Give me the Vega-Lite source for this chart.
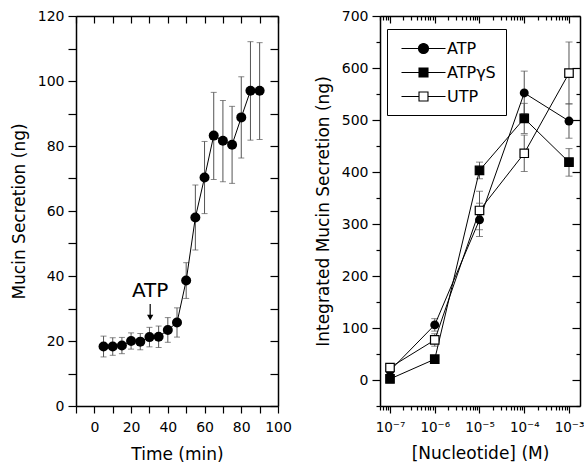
{
  "$schema": "https://vega.github.io/schema/vega-lite/v6.json",
  "padding": {"left": 10, "top": 9, "right": 0, "bottom": 2},
  "spacing": 22,
  "resolve": {"legend": {"shape": "independent", "fill": "independent"}},
  "config": {
    "view": {"stroke": null},
    "font": "DejaVu Sans",
    "axis": {
      "domainColor": "black", "domainWidth": 1.5, "tickColor": "black", "tickWidth": 1.2,
      "labelColor": "black", "labelFont": "DejaVu Sans", "labelFontSize": 14,
      "titleColor": "black", "titleFont": "DejaVu Sans", "titleFontSize": 17, "titleFontWeight": "normal",
      "grid": false, "labelPadding": 4
    }
  },
  "hconcat": [
    {
      "width": 202,
      "height": 390,
      "data": {"values": [
        {"t": 5, "v": 18.3, "lo": 15.1, "hi": 21.5},
        {"t": 10, "v": 18.3, "lo": 15.6, "hi": 21.0},
        {"t": 15, "v": 18.6, "lo": 16.1, "hi": 21.1},
        {"t": 20, "v": 20.0, "lo": 17.5, "hi": 22.5},
        {"t": 25, "v": 19.8, "lo": 17.3, "hi": 22.3},
        {"t": 30, "v": 21.2, "lo": 18.2, "hi": 24.2},
        {"t": 35, "v": 21.3, "lo": 18.0, "hi": 24.6},
        {"t": 40, "v": 23.4, "lo": 19.6, "hi": 27.2},
        {"t": 45, "v": 25.7, "lo": 21.2, "hi": 30.2},
        {"t": 50, "v": 38.6, "lo": 33.1, "hi": 44.1},
        {"t": 55, "v": 58.0, "lo": 48.0, "hi": 68.0},
        {"t": 60, "v": 70.3, "lo": 59.2, "hi": 81.4},
        {"t": 65, "v": 83.2, "lo": 69.7, "hi": 96.5},
        {"t": 70, "v": 81.6, "lo": 69.0, "hi": 94.0},
        {"t": 75, "v": 80.4, "lo": 68.5, "hi": 92.2},
        {"t": 80, "v": 88.8, "lo": 76.3, "hi": 101.3},
        {"t": 85, "v": 97.0, "lo": 81.8, "hi": 112.1},
        {"t": 90, "v": 97.0, "lo": 82.0, "hi": 111.8}
      ]},
      "resolve": {"axis": {"x": "independent", "y": "independent"}},
      "layer": [
        {
          "mark": {"type": "errorbar", "color": "#555555", "thickness": 1, "ticks": {"size": 6, "color": "#555555"}},
          "encoding": {
            "x": {"field": "t", "type": "quantitative", "scale": {"domain": [-10, 100], "nice": false, "zero": false}, "axis": null},
            "y": {"field": "lo", "type": "quantitative", "scale": {"domain": [0, 120], "nice": false}, "axis": null},
            "y2": {"field": "hi"}
          }
        },
        {
          "mark": {"type": "line", "color": "black", "strokeWidth": 1},
          "encoding": {
            "x": {"field": "t", "type": "quantitative", "scale": {"domain": [-10, 100], "nice": false, "zero": false},
              "axis": {"orient": "bottom", "title": "Time (min)", "values": [-10, 0, 10, 20, 30, 40, 50, 60, 70, 80, 90, 100],
                "labelExpr": "datum.value % 20 == 0 && datum.value >= 0 ? datum.label : ''", "tickSize": 7, "labelPadding": 7, "titlePadding": 12, "labelFlush": false}},
            "y": {"field": "v", "type": "quantitative", "scale": {"domain": [0, 120], "nice": false},
              "axis": {"orient": "left", "title": "Mucin Secretion (ng)", "values": [0, 10, 20, 30, 40, 50, 60, 70, 80, 90, 100, 110, 120],
                "labelExpr": "datum.value % 20 == 0 ? datum.label : ''", "tickSize": 8, "titlePadding": 9}}
          }
        },
        {
          "mark": {"type": "circle", "size": 100, "color": "black", "opacity": 1},
          "encoding": {
            "x": {"field": "t", "type": "quantitative", "scale": {"domain": [-10, 100], "nice": false, "zero": false},
              "axis": {"orient": "top", "title": null, "labels": false, "values": [-10, 0, 10, 20, 30, 40, 50, 60, 70, 80, 90, 100], "tickSize": -7}},
            "y": {"field": "v", "type": "quantitative", "scale": {"domain": [0, 120], "nice": false},
              "axis": {"orient": "right", "title": null, "labels": false, "values": [0, 10, 20, 30, 40, 50, 60, 70, 80, 90, 100, 110, 120], "tickSize": -8}}
          }
        },
        {
          "data": {"values": [{"x": 30.4, "y1": 31.4, "y2": 27.0, "yh": 27.2, "yt": 35.3, "label": "ATP"}]},
          "layer": [
            {
              "mark": {"type": "rule", "color": "black", "strokeWidth": 1.2},
              "encoding": {
                "x": {"field": "x", "type": "quantitative", "axis": null},
                "y": {"field": "y1", "type": "quantitative", "axis": null},
                "y2": {"field": "y2"}
              }
            },
            {
              "mark": {"type": "point", "shape": "triangle-down", "size": 40, "filled": true, "color": "black", "opacity": 1},
              "encoding": {
                "x": {"field": "x", "type": "quantitative", "axis": null},
                "y": {"field": "yh", "type": "quantitative", "axis": null}
              }
            },
            {
              "mark": {"type": "text", "fontSize": 20, "font": "DejaVu Sans", "color": "black", "baseline": "middle"},
              "encoding": {
                "x": {"field": "x", "type": "quantitative", "axis": null},
                "y": {"field": "yt", "type": "quantitative", "axis": null},
                "text": {"field": "label"}
              }
            }
          ]
        }
      ]
    },
    {
      "width": 200,
      "height": 390,
      "data": {"values": [
        {"series": "ATP", "c": 1e-7, "v": 18, "lo": 13, "hi": 23},
        {"series": "ATP", "c": 1e-6, "v": 106, "lo": 94, "hi": 118},
        {"series": "ATP", "c": 1e-5, "v": 308, "lo": 276, "hi": 340},
        {"series": "ATP", "c": 1e-4, "v": 552, "lo": 512, "hi": 594},
        {"series": "ATP", "c": 1e-3, "v": 498, "lo": 465, "hi": 531},
        {"series": "ATPγS", "c": 1e-7, "v": 2, "lo": -1, "hi": 5},
        {"series": "ATPγS", "c": 1e-6, "v": 40, "lo": 36, "hi": 44},
        {"series": "ATPγS", "c": 1e-5, "v": 403, "lo": 387, "hi": 419},
        {"series": "ATPγS", "c": 1e-4, "v": 503, "lo": 474, "hi": 532},
        {"series": "ATPγS", "c": 1e-3, "v": 419, "lo": 392, "hi": 445},
        {"series": "UTP", "c": 1e-7, "v": 24, "lo": 20, "hi": 28},
        {"series": "UTP", "c": 1e-6, "v": 77, "lo": 65, "hi": 89},
        {"series": "UTP", "c": 1e-5, "v": 326, "lo": 289, "hi": 363},
        {"series": "UTP", "c": 1e-4, "v": 436, "lo": 401, "hi": 471},
        {"series": "UTP", "c": 1e-3, "v": 590, "lo": 531, "hi": 650}
      ]},
      "resolve": {"axis": {"x": "independent", "y": "independent"}},
      "layer": [
        {
          "mark": {"type": "errorbar", "color": "#555555", "thickness": 1, "ticks": {"size": 7, "color": "#555555"}},
          "encoding": {
            "x": {"field": "c", "type": "quantitative", "scale": {"type": "log", "domain": [5.976e-8, 1.762e-3], "nice": false}, "axis": null},
            "y": {"field": "lo", "type": "quantitative", "scale": {"domain": [-50, 700], "nice": false}, "axis": null},
            "y2": {"field": "hi"}
          }
        },
        {
          "mark": {"type": "line", "color": "black", "strokeWidth": 1},
          "encoding": {
            "detail": {"field": "series"},
            "x": {"field": "c", "type": "quantitative", "scale": {"type": "log", "domain": [5.976e-8, 1.762e-3], "nice": false},
              "axis": {"orient": "bottom", "title": "[Nucleotide] (M)", "labelPadding": 7, "titlePadding": 12, "labelFlush": false, "labelFontSize": 13.5,
                "values": [6e-8, 7e-8, 8e-8, 9e-8, 1e-7, 2e-7, 3e-7, 4e-7, 5e-7, 6e-7, 7e-7, 8e-7, 9e-7, 1e-6, 2e-6, 3e-6, 4e-6, 5e-6, 6e-6, 7e-6, 8e-6, 9e-6, 1e-5, 2e-5, 3e-5, 4e-5, 5e-5, 6e-5, 7e-5, 8e-5, 9e-5, 1e-4, 2e-4, 3e-4, 4e-4, 5e-4, 6e-4, 7e-4, 8e-4, 9e-4, 1e-3],
                "labelExpr": "abs(log(datum.value)/LN10 - round(log(datum.value)/LN10)) < 0.01 ? '10' + ['\u207b\u00b3','\u207b\u2074','\u207b\u2075','\u207b\u2076','\u207b\u2077'][-round(log(datum.value)/LN10) - 3] : ''",
                "tickSize": {"condition": {"test": "abs(log(datum.value)/LN10 - round(log(datum.value)/LN10)) < 0.01", "value": 7}, "value": 4}}},
            "y": {"field": "v", "type": "quantitative", "scale": {"domain": [-50, 700], "nice": false},
              "axis": {"orient": "left", "title": "Integrated Mucin Secretion (ng)", "titlePadding": 9,
                "values": [-50, 0, 50, 100, 150, 200, 250, 300, 350, 400, 450, 500, 550, 600, 650, 700],
                "labelExpr": "datum.value % 100 == 0 ? datum.label : ''",
                "tickSize": {"condition": {"test": "datum.value % 100 == 0", "value": 8}, "value": 4}}}
          }
        },
        {
          "transform": [{"filter": "datum.series == 'ATP'"}],
          "mark": {"type": "circle", "size": 80, "color": "black", "opacity": 1},
          "encoding": {
            "x": {"field": "c", "type": "quantitative", "scale": {"type": "log", "domain": [5.976e-8, 1.762e-3], "nice": false},
              "axis": {"orient": "top", "title": null, "labels": false,
                "values": [6e-8, 7e-8, 8e-8, 9e-8, 1e-7, 2e-7, 3e-7, 4e-7, 5e-7, 6e-7, 7e-7, 8e-7, 9e-7, 1e-6, 2e-6, 3e-6, 4e-6, 5e-6, 6e-6, 7e-6, 8e-6, 9e-6, 1e-5, 2e-5, 3e-5, 4e-5, 5e-5, 6e-5, 7e-5, 8e-5, 9e-5, 1e-4, 2e-4, 3e-4, 4e-4, 5e-4, 6e-4, 7e-4, 8e-4, 9e-4, 1e-3],
                "tickSize": {"condition": {"test": "abs(log(datum.value)/LN10 - round(log(datum.value)/LN10)) < 0.01", "value": -7}, "value": -4}}},
            "y": {"field": "v", "type": "quantitative", "scale": {"domain": [-50, 700], "nice": false},
              "axis": {"orient": "right", "title": null, "labels": false,
                "values": [-50, 0, 50, 100, 150, 200, 250, 300, 350, 400, 450, 500, 550, 600, 650, 700],
                "tickSize": {"condition": {"test": "datum.value % 100 == 0", "value": -8}, "value": -4}}}
          }
        },
        {
          "transform": [{"filter": "datum.series != 'ATP'"}],
          "mark": {"type": "square", "size": 72, "stroke": "black", "strokeWidth": 1.2, "opacity": 1},
          "encoding": {
            "x": {"field": "c", "type": "quantitative", "scale": {"type": "log", "domain": [5.976e-8, 1.762e-3], "nice": false}, "axis": null},
            "y": {"field": "v", "type": "quantitative", "scale": {"domain": [-50, 700], "nice": false}, "axis": null},
            "fill": {"condition": {"test": "datum.series == 'UTP'", "value": "white"}, "value": "black"}
          }
        },
        {
          "transform": [{"filter": "false"}],
          "mark": {"type": "point", "filled": true, "stroke": "black", "strokeWidth": 1, "opacity": 1},
          "encoding": {
            "shape": {"field": "series", "type": "nominal",
              "scale": {"domain": ["ATP", "ATPγS", "UTP"], "range": [
                "M-2.5,0H-0.57M0.57,0H2.5M-0.57,0A0.57,0.57,0,1,0,0.57,0A0.57,0.57,0,1,0,-0.57,0Z",
                "M-2.5,0H-0.51M0.51,0H2.5M-0.51,-0.51H0.51V0.51H-0.51Z",
                "M-2.5,0H-0.51M0.51,0H2.5M-0.51,-0.51H0.51V0.51H-0.51Z"]},
              "legend": {"title": null, "orient": "none", "legendX": 7, "legendY": 13, "strokeColor": "black", "fillColor": "white",
                "padding": 10, "symbolSize": 310, "symbolStrokeColor": "black", "symbolStrokeWidth": 1.1, "symbolOffset": 17,
                "labelOffset": 14, "labelFontSize": 16, "labelFont": "DejaVu Sans", "labelColor": "black", "rowPadding": 6, "symbolOpacity": 1,
                "encode": {"symbols": {"update": {"stroke": {"value": "black"}, "strokeWidth": {"value": 1.1}, "opacity": {"value": 1}}}}}},
            "fill": {"field": "series", "type": "nominal",
              "scale": {"domain": ["ATP", "ATPγS", "UTP"], "range": ["black", "black", "white"]},
              "legend": {"title": null, "orient": "none", "legendX": 7, "legendY": 13, "strokeColor": "black", "fillColor": "white",
                "padding": 10, "symbolSize": 310, "symbolStrokeColor": "black", "symbolStrokeWidth": 1.1, "symbolOffset": 17,
                "labelOffset": 14, "labelFontSize": 16, "labelFont": "DejaVu Sans", "labelColor": "black", "rowPadding": 6, "symbolOpacity": 1,
                "encode": {"symbols": {"update": {"stroke": {"value": "black"}, "strokeWidth": {"value": 1.1}, "opacity": {"value": 1}}}}}}
          }
        }
      ]
    }
  ]
}
